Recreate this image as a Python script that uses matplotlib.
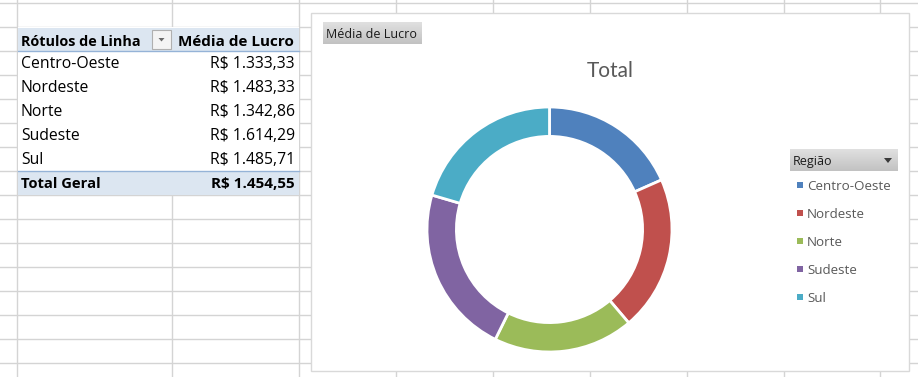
import matplotlib
matplotlib.use("Agg")
import matplotlib.pyplot as plt
import numpy as np
from matplotlib.patches import Rectangle, Polygon

plt.rcParams['font.family'] = ['Open Sans', 'DejaVu Sans']

# ---------------- data ----------------
regions = ["Centro-Oeste", "Nordeste", "Norte", "Sudeste", "Sul"]
lucro_medio = [1333.33, 1483.33, 1342.86, 1614.29, 1485.71]
total_geral = 1454.55
row_header = "Rótulos de Linha"
value_header = "Média de Lucro"
total_label = "Total Geral"
chart_title = "Total"
field_button = "Média de Lucro"
legend_title = "Região"
colors = ["#4F81BD", "#C0504D", "#9BBB59", "#8064A2", "#4BACC6"]


def brl(v):
    s = f"{v:,.2f}"
    s = s.replace(",", "X").replace(".", ",").replace("X", ".")
    return "R$ " + s


W, H = 918, 377
fig = plt.figure(figsize=(W / 100, H / 100), dpi=100)
bg = fig.add_axes([0, 0, 1, 1])
bg.set_xlim(0, W)
bg.set_ylim(H, 0)
bg.axis("off")

grid_c = "#D4D4D4"
# sheet gridlines
for y in np.arange(3, H + 24, 24):
    bg.plot([0, W], [y, y], color=grid_c, lw=1, zorder=1)
col_x = [17, 172, 299, 396, 493, 590, 687, 784, 880]
for x in col_x:
    bg.plot([x, x], [0, H], color=grid_c, lw=1, zorder=1)

# ---------------- pivot table ----------------
tx0, tx1 = 17.5, 299
hdr_fill = "#DCE6F1"
line_blue = "#95B3D7"
bg.add_patch(Rectangle((tx0, 27), tx1 - tx0, 168, facecolor="white", edgecolor="none", zorder=2))
bg.add_patch(Rectangle((tx0, 27.5), tx1 - tx0, 23.5, facecolor=hdr_fill, edgecolor="none", zorder=3))
bg.add_patch(Rectangle((tx0, 171), tx1 - tx0, 24, facecolor=hdr_fill, edgecolor="none", zorder=3))
bg.plot([tx0, tx1], [51, 51], color=line_blue, lw=1, zorder=4)
bg.plot([tx0, tx1], [171, 171], color=line_blue, lw=1, zorder=4)

fs_tab = 11.3
bg.text(21, 41.5, row_header, fontsize=10.4, fontweight="bold", ha="left", va="center", zorder=5)
bg.text(294, 41.5, value_header, fontsize=11.0, fontweight="bold", ha="right", va="center", zorder=5)
# dropdown button
bg.add_patch(Rectangle((152, 30), 19, 19, facecolor="#F4F4F4", edgecolor="#B0B0B0", lw=0.8, zorder=6))
bg.add_patch(Polygon([[158.5, 38], [164.5, 38], [161.5, 41.5]], closed=True, facecolor="#6A6A6A", edgecolor="none", zorder=7))

for i, (r, v) in enumerate(zip(regions, lucro_medio)):
    yc = 64.5 + 24 * i
    bg.text(21, yc, r, fontsize=fs_tab, ha="left", va="center", zorder=5)
    bg.text(295, yc, brl(v), fontsize=fs_tab, ha="right", va="center", zorder=5)
bg.text(21, 184.5, total_label, fontsize=10.6, fontweight="bold", ha="left", va="center", zorder=5)
bg.text(295, 184.5, brl(total_geral), fontsize=11.0, fontweight="bold", ha="right", va="center", zorder=5)

# ---------------- chart area ----------------
bg.add_patch(Rectangle((310.5, 12.5), 598, 358, facecolor="white", edgecolor="#D9D9D9", lw=1, zorder=6))


def grad_button(x0, y0, w, h):
    g = np.linspace(0, 1, 50)[:, None]
    top = np.array([0.88, 0.88, 0.88])
    bot = np.array([0.76, 0.76, 0.76])
    img = top[None, None, :] * (1 - g[..., None]) + bot[None, None, :] * g[..., None]
    img = np.repeat(img, 2, axis=1)
    bg.imshow(img, extent=(x0, x0 + w, y0 + h, y0), aspect="auto", zorder=7, interpolation="bilinear")


grad_button(323, 22, 99, 22)
bg.text(326, 34, field_button, fontsize=9.0, ha="left", va="center", color="#1A1A1A", zorder=8)

bg.text(610, 71, chart_title, fontsize=15, ha="center", va="center", color="#595959",
        family=["Lato", "DejaVu Sans"], zorder=8)

# legend
grad_button(790, 149, 108, 22)
bg.text(793, 161, legend_title, fontsize=9.0, ha="left", va="center", color="#1A1A1A", zorder=8)
bg.add_patch(Polygon([[884, 158], [892, 158], [888, 163]], closed=True, facecolor="#3A3A3A", edgecolor="none", zorder=8))
for i, (r, c) in enumerate(zip(regions, colors)):
    yc = 185 + 28 * i
    bg.add_patch(Rectangle((797, yc - 3), 6, 6, facecolor=c, edgecolor="none", zorder=8))
    bg.text(807, yc + 1.2, r, fontsize=9.6, ha="left", va="center", color="#595959", zorder=8)

bg.set_xlim(0, W)
bg.set_ylim(H, 0)

# ---------------- donut ----------------
cx, cy, R = 549.5, 229.5, 122.5
ax = fig.add_axes([(cx - R) / W, (H - cy - R) / H, 2 * R / W, 2 * R / H])
ax.pie(lucro_medio, colors=colors, startangle=90, counterclock=False, radius=1,
       wedgeprops=dict(width=0.24, edgecolor="white", linewidth=2))
ax.set_xlim(-1, 1)
ax.set_ylim(-1, 1)
ax.set_aspect("equal")
ax.axis("off")

fig.savefig("out.png", dpi=100)
